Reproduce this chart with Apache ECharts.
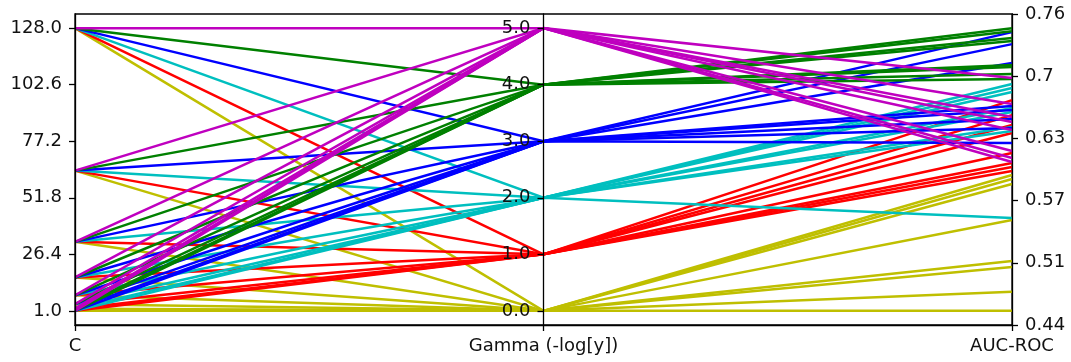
<!DOCTYPE html>
<html>
<head>
<meta charset="utf-8">
<script src="https://cdn.jsdelivr.net/npm/echarts@6.0.0/dist/echarts.min.js"></script>
<style>
html,body{margin:0;padding:0;background:#fff;}
#chart{width:1071px;height:362px;}
</style>
</head>
<body>
<div id="chart"></div>
<script>
// ---- data ----
const axisNames = ['C', 'Gamma (-log[y])', 'AUC-ROC'];
const cValues = [1, 2, 4, 8, 16, 32, 64, 128];
const gammaValues = [0, 1, 2, 3, 4, 5];
const aucGamma0 = [0.4415, 0.4629, 0.4909, 0.4977, 0.5438, 0.5842, 0.5898, 0.5943];
const aucGamma1 = [0.5988, 0.6033, 0.6078, 0.6190, 0.6415, 0.6505, 0.6617, 0.6786];
const aucGamma2 = [0.5460, 0.6438, 0.6483, 0.6651, 0.6696, 0.6876, 0.6921, 0.6966];
const aucGamma3 = [0.6303, 0.6471, 0.6573, 0.6674, 0.6719, 0.7202, 0.7415, 0.7550];
const aucGamma4 = [0.7022, 0.7078, 0.7157, 0.7179, 0.7449, 0.7483, 0.7561, 0.7595];
const aucGamma5 = [0.7033, 0.6741, 0.6595, 0.6539, 0.6449, 0.6213, 0.6134, 0.6089];
const cTicks = [1.0, 26.4, 51.8, 77.2, 102.6, 128.0];
const gammaTicks = [0, 1, 2, 3, 4, 5];
const aucTickLabels = ['0.44', '0.51', '0.57', '0.63', '0.7', '0.76'];
const groupColors = ['#bfbf00', '#ff0000', '#00bfbf', '#0000ff', '#008000', '#bf00bf'];

// ---- build ----
const aucGroups = [aucGamma0, aucGamma1, aucGamma2, aucGamma3, aucGamma4, aucGamma5];
function padded(lo, hi) { const r = hi - lo; return [lo - 0.05 * r, hi + 0.05 * r]; }
const cExt = padded(Math.min(...cValues), Math.max(...cValues));
const gExt = padded(Math.min(...gammaValues), Math.max(...gammaValues));
const allAuc = [].concat(...aucGroups);
const aExt = padded(Math.min(...allAuc), Math.max(...allAuc));
const aStep = (aExt[1] - aExt[0]) / (aucTickLabels.length - 1);
const aucTickPos = aucTickLabels.map((_, i) => aExt[0] + i * aStep);

const FONT = 'DejaVu Sans';
const txt = { color: '#111', fontFamily: FONT, fontSize: 18 };
function axisCommon(extent, ticks, fmt, leftSide) {
  const label = Object.assign({ show: true, margin: leftSide ? -13 : 13, customValues: ticks, formatter: fmt }, txt);
  label.align = leftSide ? 'right' : 'left';
  return {
    type: 'value', min: extent[0], max: extent[1], name: '',
    axisLine: { show: true, lineStyle: { color: '#000', width: 1.3 } },
    axisTick: { show: true, length: leftSide ? -6 : 6, customValues: ticks, lineStyle: { color: '#000', width: 1.3 } },
    axisLabel: label,
    splitLine: { show: false }
  };
}

const parallelAxis = [
  Object.assign({ dim: 0 }, axisCommon(cExt, cTicks, v => Number(v).toFixed(1), true)),
  Object.assign({ dim: 1 }, axisCommon(gExt, gammaTicks, v => Number(v).toFixed(1), true)),
  Object.assign({ dim: 2 }, axisCommon(aExt, aucTickPos, v => aucTickLabels[Math.round((v - aExt[0]) / aStep)], false))
];

const series = gammaValues.map((g, gi) => ({
  type: 'parallel',
  silent: true,
  smooth: false,
  z: 3,
  lineStyle: { color: groupColors[gi], width: 2.5, opacity: 1 },
  inactiveOpacity: 1, activeOpacity: 1,
  emphasis: { disabled: true },
  data: cValues.map((c, i) => [c, g, aucGroups[gi][i]])
}));

const chart = echarts.init(document.getElementById('chart'), null, { renderer: 'canvas' });
chart.setOption({
  animation: false,
  backgroundColor: '#fff',
  parallel: { left: 75, right: 59, top: 14, bottom: 37, layout: 'horizontal' },
  parallelAxis: parallelAxis,
  grid: { left: 75, right: 59, top: 14, bottom: 37, show: true, borderColor: '#000', borderWidth: 1.3, backgroundColor: 'transparent', z: 0 },
  xAxis: {
    type: 'value', min: 0, max: 2, interval: 1,
    axisLine: { show: true, lineStyle: { color: '#000', width: 1.3 } },
    axisTick: { show: true, length: 6, lineStyle: { color: '#000', width: 1.3 } },
    axisLabel: Object.assign({ margin: 12, showMinLabel: true, showMaxLabel: true, hideOverlap: false,
      formatter: (v) => axisNames[Math.round(v)] }, txt),
    splitLine: { show: false }
  },
  yAxis: { type: 'value', min: 0, max: 1, show: false, splitLine: { show: false } },
  series: series
});
</script>
</body>
</html>
